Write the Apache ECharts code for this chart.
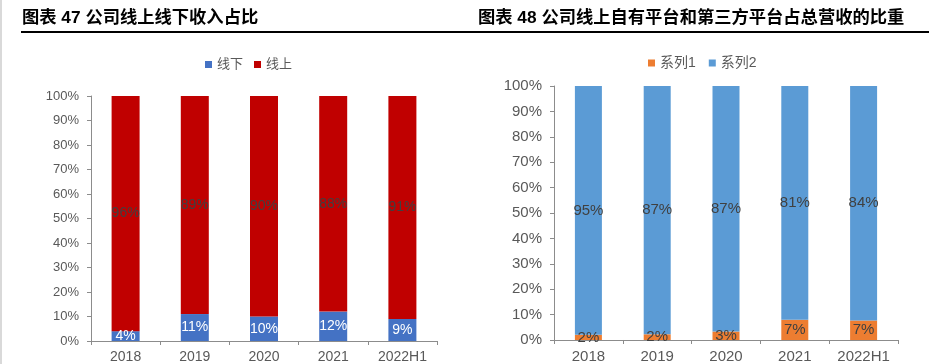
<!DOCTYPE html>
<html>
<head>
<meta charset="utf-8">
<script src="https://cdn.jsdelivr.net/npm/echarts@6/dist/echarts.min.js"></script>
<style>
html,body{margin:0;padding:0;background:#fff;}
#chart{width:929px;height:364px;}
</style>
</head>
<body>
<div id="chart"></div>
<script>
// ---- data ----
const years = ['2018', '2019', '2020', '2021', '2022H1'];
const offline = [4, 11, 10, 12, 9];          // 线下
const online = [96, 89, 90, 88, 91];         // 线上
const platform1 = [2, 2, 3, 7, 7];           // 系列1
const platform2 = [95, 87, 87, 81, 84];      // 系列2
const titleLeft = '图表 47 公司线上线下收入占比';
const titleRight = '图表 48 公司线上自有平台和第三方平台占总营收的比重';

// 100% stacked shares for the right chart (labels show the raw values)
const share1 = platform1.map((v, i) => v / (v + platform2[i]) * 100);
const share2 = platform2.map((v, i) => v / (platform1[i] + v) * 100);

const FONT = "'Liberation Sans', 'Noto Sans CJK SC', sans-serif";
const AXIS_COLOR = '#8c8c8c';
const TEXT_COLOR = '#595959';

function xAxis(gridIndex, fs) {
  return {
    type: 'category', gridIndex: gridIndex, data: years,
    axisLine: {lineStyle: {color: AXIS_COLOR, width: 1}},
    axisTick: {show: true, length: 4, alignWithLabel: false, lineStyle: {color: AXIS_COLOR}},
    axisLabel: {fontSize: fs, color: TEXT_COLOR, margin: 9, fontFamily: FONT},
    splitLine: {show: false}
  };
}
function yAxis(gridIndex, fs) {
  return {
    type: 'value', gridIndex: gridIndex, min: 0, max: 100, interval: 10,
    axisLine: {show: true, lineStyle: {color: AXIS_COLOR, width: 1}},
    axisTick: {show: true, length: 4, lineStyle: {color: AXIS_COLOR}},
    axisLabel: {fontSize: fs, color: TEXT_COLOR, margin: 12, formatter: '{value}%', fontFamily: FONT},
    splitLine: {show: false}
  };
}
function label(color, raw, fs) {
  return {
    show: true, position: 'inside', color: color, fontSize: fs, fontFamily: FONT,
    formatter: p => raw[p.dataIndex] + '%'
  };
}

const chart = echarts.init(document.getElementById('chart'), null, {renderer: 'canvas'});
chart.setOption({
  animation: false,
  textStyle: {fontFamily: FONT},
  title: [
    {text: titleLeft, left: 22, top: 10, padding: 0,
     textStyle: {fontSize: 17.3, fontWeight: 'bold', color: '#000', fontFamily: FONT}},
    {text: titleRight, left: 478, top: 10, padding: 0,
     textStyle: {fontSize: 17.3, fontWeight: 'bold', color: '#000', fontFamily: FONT}}
  ],
  graphic: [
    {type: 'rect', shape: {x: 21, y: 31, width: 908, height: 2}, style: {fill: '#000'}},
    {type: 'rect', shape: {x: 0, y: 0, width: 2, height: 364}, style: {fill: '#d9d9d9'}}
  ],
  legend: [
    {data: ['线下', '线上'], left: 205, top: 58, padding: 0, itemWidth: 7, itemHeight: 7, itemGap: 11,
     icon: 'rect', textStyle: {fontSize: 13, color: TEXT_COLOR, fontFamily: FONT}},
    {data: ['系列1', '系列2'], left: 648, top: 56, padding: 0, itemWidth: 7, itemHeight: 7, itemGap: 13,
     icon: 'rect', textStyle: {fontSize: 14, color: TEXT_COLOR, fontFamily: FONT}}
  ],
  grid: [
    {left: 91, top: 96, width: 346, height: 245},
    {left: 554, top: 86, width: 344, height: 254}
  ],
  xAxis: [xAxis(0, 14), xAxis(1, 15)],
  yAxis: [yAxis(0, 13), yAxis(1, 15)],
  series: [
    {name: '线下', type: 'bar', stack: 'a', xAxisIndex: 0, yAxisIndex: 0, barWidth: 28,
     data: offline, itemStyle: {color: '#4472C4'}, label: label('#ffffff', offline, 14)},
    {name: '线上', type: 'bar', stack: 'a', xAxisIndex: 0, yAxisIndex: 0, barWidth: 28,
     data: online, itemStyle: {color: '#C00000'}, label: label('#404040', online, 14)},
    {name: '系列1', type: 'bar', stack: 'b', xAxisIndex: 1, yAxisIndex: 1, barWidth: 27,
     data: share1, itemStyle: {color: '#ED7D31'}, label: label('#404040', platform1, 15)},
    {name: '系列2', type: 'bar', stack: 'b', xAxisIndex: 1, yAxisIndex: 1, barWidth: 27,
     data: share2, itemStyle: {color: '#5B9BD5'}, label: label('#404040', platform2, 15)}
  ]
});
</script>
</body>
</html>
